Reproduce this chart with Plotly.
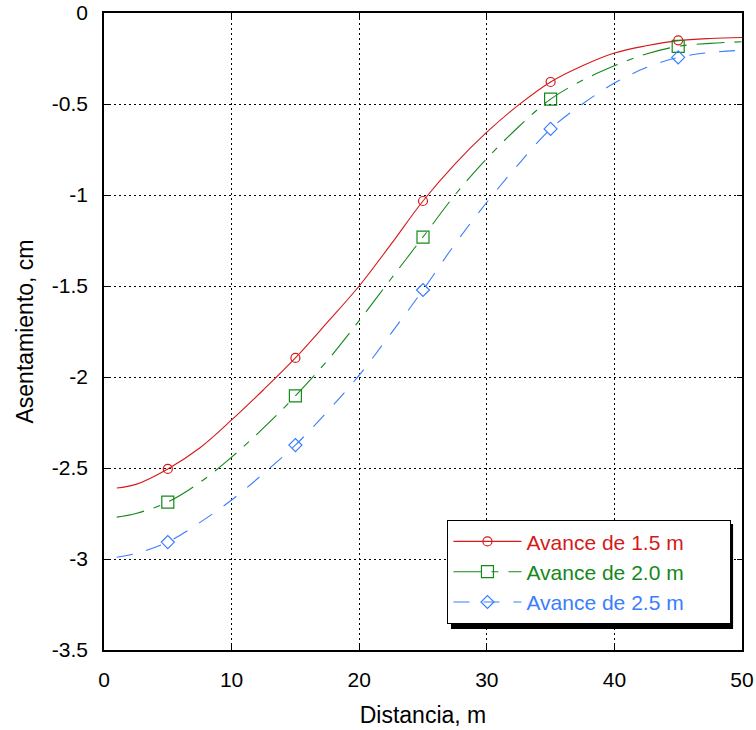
import plotly.graph_objects as go

# Curve sample positions (m)
dist = [1, 2.5, 5, 7.5, 10, 12.5, 15, 17.5, 20, 22.5, 25, 27.5, 30, 32.5, 35, 37.5, 40, 42.5, 45, 47.5, 50]
curve_15 = [-2.61, -2.59, -2.505, -2.39, -2.236, -2.07, -1.895, -1.70, -1.50, -1.27, -1.033, -0.83,
            -0.655, -0.505, -0.379, -0.29, -0.22, -0.18, -0.152, -0.140, -0.135]
curve_20 = [-2.77, -2.75, -2.687, -2.58, -2.44, -2.28, -2.104, -1.91, -1.69, -1.46, -1.231, -1.00,
            -0.80, -0.625, -0.473, -0.37, -0.29, -0.225, -0.183, -0.167, -0.158]
curve_25 = [-2.99, -2.97, -2.907, -2.80, -2.676, -2.53, -2.374, -2.19, -1.99, -1.76, -1.522, -1.27,
            -1.04, -0.83, -0.637, -0.50, -0.385, -0.30, -0.244, -0.217, -0.205]

# Marker positions
mark_x = [5, 15, 25, 35, 45]
mark_15 = [-2.505, -1.895, -1.033, -0.379, -0.150]
mark_20 = [-2.687, -2.104, -1.231, -0.473, -0.183]
mark_25 = [-2.907, -2.374, -1.522, -0.637, -0.244]

names = ["Avance de 1.5 m", "Avance de 2.0 m", "Avance de 2.5 m"]
colors = ["#d41a1a", "#13891a", "#3a7dff"]
dashes = ["solid", "28px,10px,7px,10px", "16px,14px"]
symbols = ["circle-open", "square-open", "diamond-open"]
msizes = [9, 12, 10]

xticks = [0, 10, 20, 30, 40, 50]
xtick_text = ["0", "10", "20", "30", "40", "50"]
yticks = [0, -0.5, -1, -1.5, -2, -2.5, -3, -3.5]
ytick_text = ["0", "-0.5", "-1", "-1.5", "-2", "-2.5", "-3", "-3.5"]

FONT = "Liberation Sans, Arial, sans-serif"
PAD = "\u00a0" * 7

fig = go.Figure()
curves = [curve_15, curve_20, curve_25]
marks = [mark_15, mark_20, mark_25]
for i in range(3):
    fig.add_trace(go.Scatter(
        x=dist, y=curves[i], mode="lines", showlegend=False,
        line=dict(color=colors[i], width=1.1, dash=dashes[i], shape="spline", smoothing=1.0),
        hoverinfo="skip"))
    fig.add_trace(go.Scatter(
        x=mark_x, y=marks[i], mode="markers", showlegend=False,
        marker=dict(symbol=symbols[i], size=msizes[i], color=colors[i], line=dict(width=1.2, color=colors[i]))))
for i in range(3):
    fig.add_trace(go.Scatter(
        x=[None], y=[None], mode="lines+markers",
        name='<span style="color:%s">%s</span>%s' % (colors[i], names[i], PAD),
        line=dict(color=colors[i], width=1.1, dash=dashes[i]),
        marker=dict(symbol=symbols[i], size=msizes[i], color=colors[i], line=dict(width=1.2, color=colors[i]))))

axis_common = dict(
    showline=True, linecolor="black", linewidth=1.5, mirror="ticks",
    ticks="inside", ticklen=5, tickcolor="black", tickwidth=1.2,
    showgrid=True, gridcolor="black", gridwidth=1, griddash="2px,3px",
    zeroline=False, tickfont=dict(family=FONT, size=21, color="black"),
    automargin=False, ticklabeloverflow="allow",
)

fig.update_xaxes(range=[0, 50], tickvals=xticks, ticktext=xtick_text, ticklabelstandoff=10,
                 title=dict(text="Distancia, m", font=dict(family=FONT, size=23, color="black"), standoff=17),
                 **axis_common)
fig.update_yaxes(range=[-3.5, 0], tickvals=yticks, ticktext=ytick_text, ticklabelstandoff=10,
                 title=dict(text="Asentamiento, cm", font=dict(family=FONT, size=23, color="black"), standoff=12),
                 **axis_common)

# Legend drop shadow (paper coords of plot area)
fig.add_shape(type="rect", xref="paper", yref="paper", layer="above",
              x0=0.5439, x1=0.9860, y0=0.0330, y1=0.1978,
              fillcolor="black", line=dict(width=0))

fig.update_layout(
    width=756, height=730,
    margin=dict(l=104, r=14, t=13, b=80),
    paper_bgcolor="white", plot_bgcolor="white",
    font=dict(family=FONT, size=21, color="black"),
    legend=dict(x=0.538, y=0.204, xanchor="left", yanchor="top",
                bgcolor="white", bordercolor="black", borderwidth=1.2,
                font=dict(family=FONT, size=21), itemwidth=68,
                tracegroupgap=0),
)

fig.write_html("out.html", config={"displayModeBar": False},
               post_script="document.body.style.margin='0';")
